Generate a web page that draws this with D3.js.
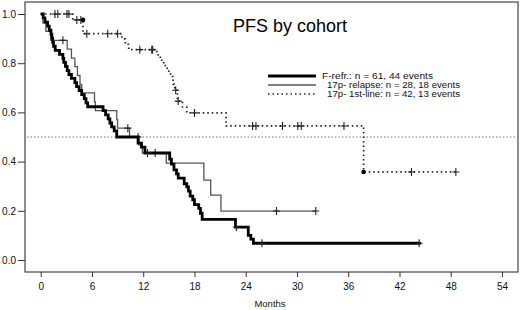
<!DOCTYPE html>
<html>
<head>
<meta charset="utf-8">
<script src="https://cdn.jsdelivr.net/npm/d3@7"></script>
<style>
  body { margin: 0; background: #fff; }
  svg { font-family: Arial, "Liberation Sans", sans-serif; }
  .tick text { font-size: 10px; fill: #111; }
  .tick line { stroke: #333; }
</style>
</head>
<body>
<script>
// month ticks and survival ticks
var xTicks = [0, 6, 12, 18, 24, 30, 36, 42, 48, 54];
var yTicks = [0, 0.2, 0.4, 0.6, 0.8, 1.0];

// F-refr.: [month, survival after event]
var refrSteps = [[0.3,0.984],[0.5,0.967],[0.8,0.951],[1.0,0.934],[1.2,0.918],[1.3,0.902],[1.4,0.885],
  [1.5,0.869],[1.7,0.852],[2.2,0.836],[2.6,0.820],[2.7,0.803],[2.9,0.787],[3.1,0.770],[3.3,0.754],
  [3.6,0.738],[4.0,0.721],[4.2,0.705],[4.5,0.689],[4.8,0.672],[5.1,0.656],[5.3,0.639],[5.5,0.623],
  [7.3,0.607],[7.6,0.590],[7.9,0.574],[8.1,0.557],[8.3,0.541],[8.6,0.525],[8.9,0.5],
  [11.4,0.475],[11.8,0.459],[12.2,0.435],[15.1,0.41],[15.3,0.39],[15.6,0.366],[15.9,0.35],
  [16.1,0.333],[16.8,0.31],[17.1,0.297],[17.3,0.28],[17.5,0.26],[17.8,0.245],[18.0,0.225],
  [18.5,0.21],[18.7,0.19],[18.9,0.165],[22.8,0.134],[24.3,0.10],[24.6,0.085],[24.9,0.068]];
var refrEnd = 44.5;
var refrCensor = [12.5, 22.9, 25.9, 44.3];

// 17p- relapse
var relSteps = [[0.25,0.964],[0.6,0.929],[1.2,0.893],[3.1,0.857],[3.6,0.821],[4.0,0.786],[4.3,0.75],
  [4.6,0.714],[4.8,0.679],[6.3,0.643],[6.4,0.607],[8.9,0.571],[9.0,0.536],[10.4,0.5],[11.5,0.467],
  [11.9,0.435],[14.7,0.394],[19.1,0.325],[19.9,0.264],[21.1,0.199]];
var relEnd = 32.2;
var relCensor = [2.6, 10.2, 11.4, 13.4, 27.6, 32.2];

// 17p- 1st-line
var firstSteps = [[3.75,0.976],[4.95,0.92],[9.5,0.899],[9.9,0.877],[10.3,0.855],[13.6,0.834],
  [14.0,0.812],[14.4,0.79],[14.8,0.768],[15.2,0.746],[15.5,0.715],[15.7,0.69],[16.0,0.646],
  [16.6,0.622],[17.1,0.598],[21.7,0.545],[37.8,0.358]];
var firstEnd = 48.6;
var firstCensor = [1.67, 2.0, 3.07, 3.3, 4.23, 4.7, 5.4, 7.85, 9.0, 11.6, 13.0, 13.1, 15.8, 16.1,
  18.0, 24.8, 25.2, 28.3, 30.1, 30.5, 35.5, 43.4, 48.6];
var firstDots = [[4.95,0.976],[37.8,0.358]];

var labels = ["F-refr.: n = 61, 44 events", "17p- relapse: n = 28, 18 events", "17p- 1st-line: n = 42, 13 events"];

var W = 520, H = 310;
var box = {left:25, top:2, right:518, bottom:272};

var x = d3.scaleLinear().domain([0, 54]).range([40.7, 502]);
var y = d3.scaleLinear().domain([0, 1]).range([260, 14]);

var svg = d3.select("body").append("svg").attr("width", W).attr("height", H);

svg.append("rect")
  .attr("x", box.left).attr("y", box.top)
  .attr("width", box.right - box.left).attr("height", box.bottom - box.top)
  .attr("fill", "none").attr("stroke", "#444").attr("stroke-width", 1.2);

var xAxis = d3.axisBottom(x).tickValues(xTicks).tickSize(5).tickPadding(6);
svg.append("g").attr("transform", "translate(0," + box.bottom + ")").call(xAxis)
  .call(g => g.select(".domain").remove());

var yAxis = d3.axisLeft(y).tickValues(yTicks).tickSize(7).tickPadding(2).tickFormat(d3.format(".1f"));
svg.append("g").attr("transform", "translate(" + box.left + ",0)").call(yAxis)
  .call(g => g.select(".domain").remove());

svg.append("text").attr("x", 270).attr("y", 307).attr("text-anchor", "middle")
  .style("font-size", "9.5px").attr("fill", "#111").text("Months");

// median line
svg.append("line")
  .attr("x1", box.left + 2).attr("x2", box.right)
  .attr("y1", y(0.5)).attr("y2", y(0.5))
  .attr("stroke", "#777").attr("stroke-width", 1).attr("stroke-dasharray", "1.5,2");

function kmPoints(steps, end) {
  var pts = [[0, 1]].concat(steps);
  pts.push([end, steps[steps.length - 1][1]]);
  return pts;
}
function levelAt(steps, t) {
  var s = 1;
  steps.forEach(function (d) { if (d[0] <= t) s = d[1]; });
  return s;
}

var line = d3.line()
  .x(function (d) { return x(d[0]); })
  .y(function (d) { return y(d[1]); })
  .curve(d3.curveStepAfter);

var refr = {steps: refrSteps, end: refrEnd, cens: refrCensor, stroke: "#000", width: 2.8, dash: null};
var rel = {steps: relSteps, end: relEnd, cens: relCensor, stroke: "#555", width: 1.3, dash: null};
var first = {steps: firstSteps, end: firstEnd, cens: firstCensor, stroke: "#222", width: 1.7, dash: "1.5,3"};

// drawing order: thin first, thick on top
[rel, first, refr].forEach(function (s) {
  svg.append("path")
    .attr("d", line(kmPoints(s.steps, s.end)))
    .attr("fill", "none")
    .attr("stroke", s.stroke)
    .attr("stroke-width", s.width)
    .attr("stroke-dasharray", s.dash);

  svg.append("g").selectAll("path").data(s.cens).enter().append("path")
    .attr("transform", function (t) { return "translate(" + x(t) + "," + y(levelAt(s.steps, t)) + ")"; })
    .attr("d", "M-3.5,0H3.5M0,-4V4")
    .attr("stroke", "#222").attr("stroke-width", 1.1);
});

svg.append("g").selectAll("circle").data(firstDots).enter().append("circle")
  .attr("cx", function (d) { return x(d[0]); })
  .attr("cy", function (d) { return y(d[1]); })
  .attr("r", 2.3).attr("fill", "#000");

// title
svg.append("text").attr("x", 233).attr("y", 32)
  .style("font-size", "18px").attr("fill", "#000").text("PFS by cohort");

// legend
var legend = svg.append("g");
var legendW = [111, 133, 133];
[refr, rel, first].forEach(function (s, i) {
  var ly = 76 + i * 9;
  legend.append("line")
    .attr("x1", 268).attr("x2", 316).attr("y1", ly).attr("y2", ly)
    .attr("stroke", s.stroke).attr("stroke-width", s.width)
    .attr("stroke-dasharray", s.dash);
  legend.append("text")
    .attr("x", i == 0 ? 322 : 327).attr("y", ly + 3)
    .attr("textLength", legendW[i]).attr("lengthAdjust", "spacingAndGlyphs")
    .style("font-size", "8.5px").attr("fill", "#111")
    .text(labels[i]);
});
</script>
</body>
</html>
